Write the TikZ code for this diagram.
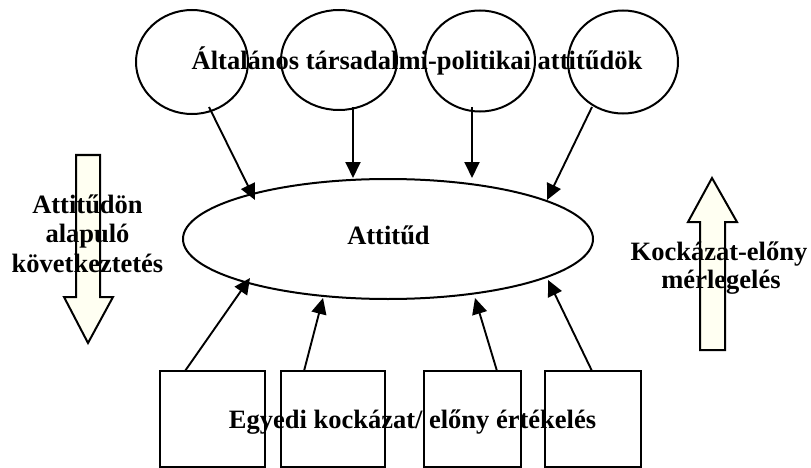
\documentclass[tikz,border=0pt]{standalone}
\usepackage{fontspec}
\setmainfont{Liberation Serif}
\usetikzlibrary{arrows.meta,shapes.geometric}
\definecolor{ivory}{RGB}{255,255,242}
\begin{document}
\begin{tikzpicture}[x=1pt,y=-1pt,
  line width=2pt,
  every node/.style={inner sep=0pt,outer sep=0pt},
  lbl/.style={font=\bfseries\fontsize{26.5}{29}\selectfont,align=center},
  bubble/.style={draw,ellipse},
  box/.style={draw,rectangle},
  arr/.style={-{Triangle[length=16pt,width=15pt]},line width=1.9pt},
  block/.style={draw,fill=ivory,line join=miter}]
\useasboundingbox (0,0) rectangle (811,468);

% general attitudes
\node[bubble,minimum width=112,minimum height=104] (c1) at (192,62) {};
\node[bubble,minimum width=116,minimum height=100] (c2) at (339,60) {};
\node[bubble,minimum width=110,minimum height=101] (c3) at (480,61) {};
\node[bubble,minimum width=110,minimum height=103] (c4) at (623,62) {};

% attitude
\node[bubble,minimum width=410,minimum height=120] (att) at (388,239) {};

% individual assessments
\node[box,minimum width=105,minimum height=96] (b1) at (212.5,419) {};
\node[box,minimum width=104,minimum height=96] (b2) at (333,419) {};
\node[box,minimum width=97,minimum height=96] (b3) at (472.5,419) {};
\node[box,minimum width=96,minimum height=96] (b4) at (593,419) {};

% side block arrows
\path[block] (76,155) -- (100,155) -- (100,297) -- (113,297) -- (88,343)
  -- (64,297) -- (76,297) -- cycle;
\path[block] (700,350) -- (725,350) -- (725,222) -- (737,222) -- (712,178)
  -- (688,222) -- (700,222) -- cycle;

% arrow end points
\coordinate (s1) at (209,107); \coordinate (e1) at (255,200);
\coordinate (s2) at (353,107); \coordinate (e2) at (353,178);
\coordinate (s3) at (472,107); \coordinate (e3) at (472,178);
\coordinate (s4) at (592,107); \coordinate (e4) at (547,200);
\coordinate (u1) at (185,371); \coordinate (f1) at (250,278);
\coordinate (u2) at (304,371); \coordinate (f2) at (323,298);
\coordinate (u3) at (497,371); \coordinate (f3) at (475,298);
\coordinate (u4) at (592,371); \coordinate (f4) at (548,280);

\draw[arr] (s1) -- (e1);
\draw[arr] (s2) -- (e2);
\draw[arr] (s3) -- (e3);
\draw[arr] (s4) -- (e4);
\draw[arr] (u1) -- (f1);
\draw[arr] (u2) -- (f2);
\draw[arr] (u3) -- (f3);
\draw[arr] (u4) -- (f4);

% labels
\node[lbl,anchor=base] (ttop) at (417,70) {Általános társadalmi-politikai attitűdök};
\node[lbl,anchor=base] (tatt) at (388.5,244) {Attitűd};
\node[lbl,anchor=base] (tbot) at (412.5,428) {Egyedi kockázat/ előny értékelés};
\node[lbl,anchor=base] (tl1) at (87.5,213) {Attitűdön};
\node[lbl,anchor=base] (tl2) at (87.5,242.5) {alapuló};
\node[lbl,anchor=base] (tl3) at (87.5,272) {következtetés};
\node[lbl,anchor=base] (tr1) at (719,260) {Kockázat-előny};
\node[lbl,anchor=base] (tr2) at (721,288.5) {mérlegelés};
\end{tikzpicture}
\end{document}
